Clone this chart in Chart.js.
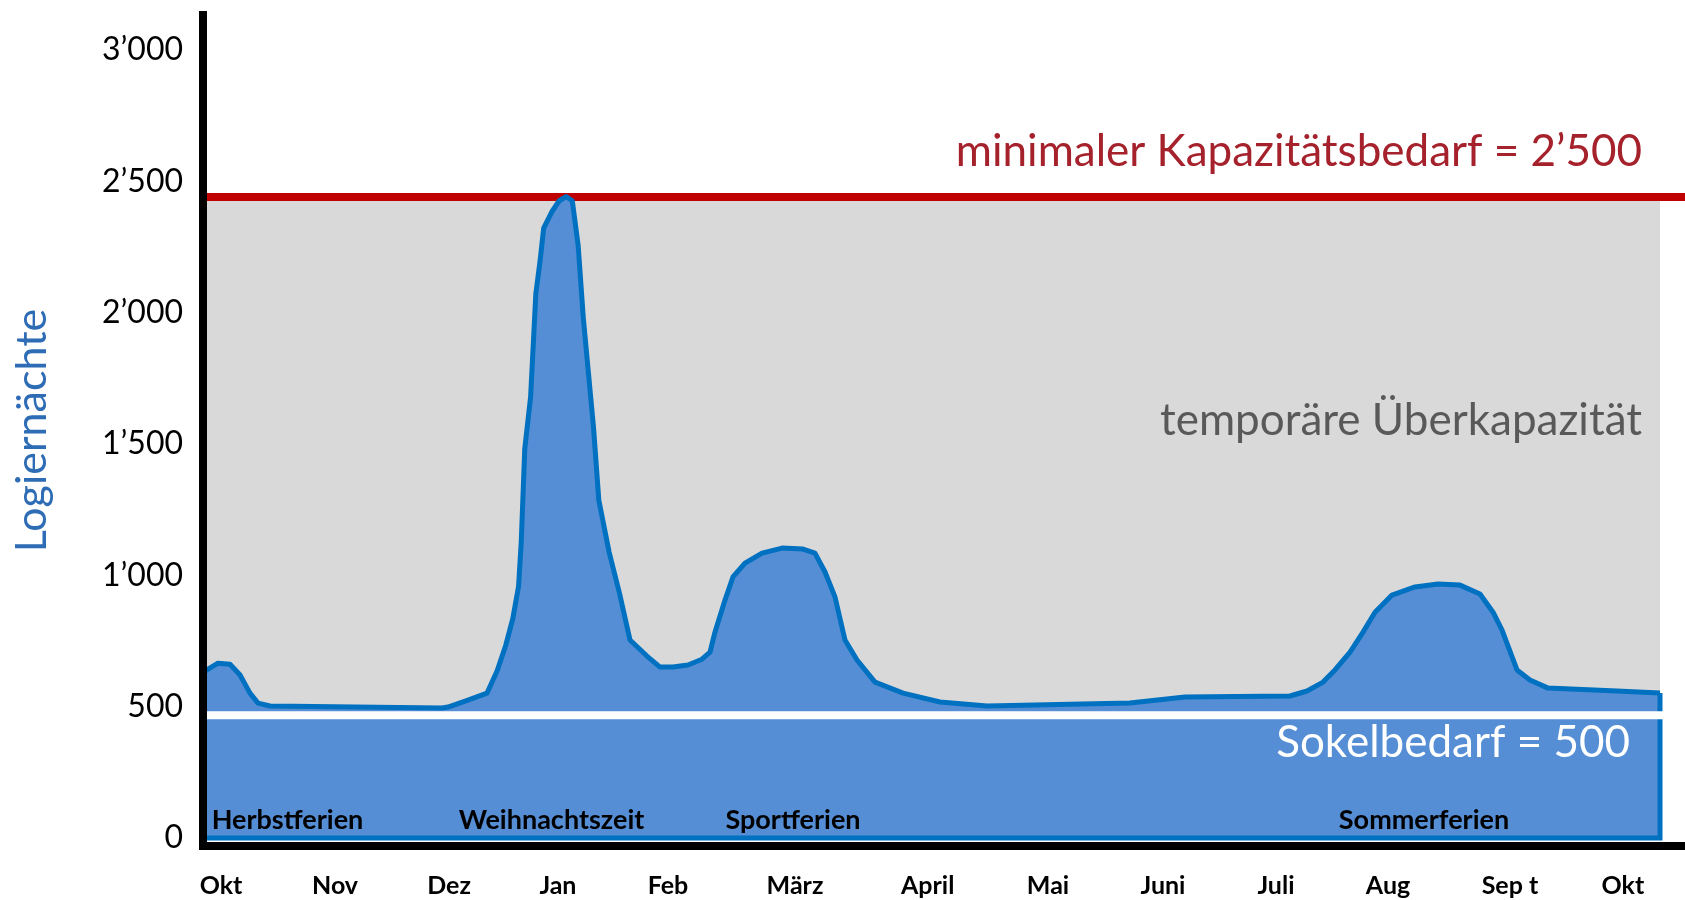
<!DOCTYPE html>
<html>
<head>
<meta charset="utf-8">
<script src="https://cdn.jsdelivr.net/npm/chart.js@4.4.1/dist/chart.umd.min.js"></script>
<style>
  html, body { margin: 0; padding: 0; background: #ffffff; }
  #wrap { width: 1685px; height: 900px; position: relative; }
</style>
</head>
<body>
<div id="wrap"><canvas id="c" width="1685" height="900"></canvas></div>
<script>
// ---------------- data ----------------
// x unit: months since the start of October (Okt = 0, next Okt = 12)
const monthLabels  = ['Okt', 'Nov', 'Dez', 'Jan', 'Feb', 'März', 'April', 'Mai', 'Juni', 'Juli', 'Aug', 'Sep t', 'Okt'];
const monthTickPos = [0, 0.976, 1.952, 2.884, 3.826, 4.913, 6.049, 7.079, 8.063, 9.030, 9.989, 11.033, 11.999];
const yTickValues  = [0, 500, 1000, 1500, 2000, 2500, 3000];

// Logiernächte over the year
const demandX = [-0.154, -0.114, -0.026, 0.077, 0.163, 0.248, 0.317, 0.419, 1.892, 1.943,
                 2.114, 2.277, 2.364, 2.438, 2.497, 2.547, 2.570, 2.600, 2.650, 2.695,
                 2.733, 2.762, 2.836, 2.895, 2.954, 3.007, 3.057, 3.101, 3.189, 3.234,
                 3.322, 3.411, 3.501, 3.646, 3.758, 3.869, 3.997, 4.117, 4.186, 4.228,
                 4.314, 4.382, 4.485, 4.631, 4.802, 4.982, 5.084, 5.170, 5.256, 5.341,
                 5.444, 5.598, 5.838, 6.154, 6.557, 7.780, 8.251, 9.150, 9.296, 9.433,
                 9.535, 9.664, 9.775, 9.878, 10.023, 10.220, 10.417, 10.605, 10.776, 10.888,
                 10.965, 11.093, 11.204, 11.359, 11.949, 12.317];
const demandY = [630, 642, 666, 662, 621, 552, 514, 503, 495, 499,
                 525, 552, 637, 735, 834, 958, 1128, 1482, 1679, 2073,
                 2204, 2322, 2387, 2426, 2442, 2426, 2256, 1981, 1561, 1286,
                 1089, 932, 754, 693, 651, 651, 659, 681, 708, 784,
                 906, 994, 1047, 1085, 1104, 1100, 1085, 1013, 917, 754,
                 678, 594, 552, 518, 503, 514, 537, 541, 560, 594,
                 640, 708, 784, 860, 925, 956, 967, 963, 929, 860,
                 792, 640, 602, 571, 560, 552];

// reference lines (as drawn)
const sockelValue   = 468;   // white line "Sokelbedarf = 500"
const capacityValue = 2440;  // red line "minimaler Kapazitätsbedarf = 2'500"

// holiday labels
const holidayLabels = ['Herbstferien', 'Weihnachtszeit', 'Sportferien', 'Sommerferien'];
const holidayX      = [0.569, 2.829, 4.896, 10.297];
const holidayY      = [69, 69, 69, 69];

// ---------------- layout / styling ----------------
const X_MIN = -0.154, X_MAX = 12.531;
const Y_MIN = -30, Y_MAX = 3133;
const FONT = 'Lato, "Open Sans", sans-serif';

const firstX = demandX[0];
const lastX  = demandX[demandX.length - 1];
const lastY  = demandY[demandY.length - 1];

const demandPts  = demandX.map((x, i) => ({ x, y: demandY[i] }));
const outlinePts = [{ x: lastX, y: lastY }, { x: lastX, y: 0 }, { x: firstX, y: 0 }];
const grayPts    = [{ x: firstX, y: capacityValue }, { x: lastX, y: capacityValue }];
const redPts     = [{ x: X_MIN, y: capacityValue }, { x: X_MAX, y: capacityValue }];
const whitePts   = [{ x: X_MIN, y: sockelValue }, { x: X_MAX, y: sockelValue }];

const annotations = [
  { text: 'minimaler Kapazitätsbedarf = 2’500', x: 12.163, y: 2612, align: 'right', color: '#A5212B', size: 44, weight: 'normal' },
  { text: 'temporäre Überkapazität',            x: 12.163, y: 1588, align: 'right', color: '#595959', size: 44, weight: 'normal' },
  { text: 'Sokelbedarf = 500',                  x: 12.060, y: 362,  align: 'right', color: '#FFFFFF', size: 44, weight: 'normal' }
].concat(holidayLabels.map((t, i) => ({
  text: t, x: holidayX[i], y: holidayY[i], align: 'center', color: '#000000', size: 27, weight: 'bold'
})));

const textPlugin = {
  id: 'textPlugin',
  afterDatasetsDraw(chart) {
    const { ctx } = chart;
    const xs = chart.scales.x, ys = chart.scales.y;
    ctx.save();
    ctx.textBaseline = 'middle';
    for (const a of annotations) {
      ctx.font = `${a.weight} ${a.size}px ${FONT}`;
      ctx.fillStyle = a.color;
      ctx.textAlign = a.align;
      ctx.fillText(a.text, xs.getPixelForValue(a.x), ys.getPixelForValue(a.y));
    }
    ctx.restore();
  }
};

const fmt = v => v < 1000 ? String(v) : Math.floor(v / 1000) + '’' + String(v % 1000).padStart(3, '0');

const lineBase = { pointRadius: 0, pointHoverRadius: 0, tension: 0, showLine: true };

new Chart(document.getElementById('c'), {
  type: 'line',
  data: {
    datasets: [
      Object.assign({}, lineBase, { label: 'temporäre Überkapazität', data: grayPts, borderWidth: 0,
        backgroundColor: '#D9D9D9', fill: { value: sockelValue }, order: 6 }),
      Object.assign({}, lineBase, { label: 'Kapazitätsbedarf', data: redPts, borderWidth: 8,
        borderColor: '#C00000', fill: false, order: 5 }),
      Object.assign({}, lineBase, { label: 'Logiernächte', data: demandPts, borderWidth: 5,
        borderColor: '#0070C0', backgroundColor: '#558ED5', fill: 'origin', order: 4,
        borderJoinStyle: 'round' }),
      Object.assign({}, lineBase, { label: 'Rand', data: outlinePts, borderWidth: 5,
        borderColor: '#0070C0', fill: false, order: 3 }),
      Object.assign({}, lineBase, { label: 'Sockelbedarf', data: whitePts, borderWidth: 8,
        borderColor: '#FFFFFF', fill: false, order: 2 })
    ]
  },
  options: {
    responsive: false,
    animation: false,
    devicePixelRatio: 1,
    layout: { padding: { top: 15, right: 0, bottom: 0, left: 0 } },
    plugins: { legend: { display: false }, tooltip: { enabled: false } },
    events: [],
    scales: {
      x: {
        type: 'linear',
        min: X_MIN, max: X_MAX,
        grid: { display: false, drawTicks: false },
        border: { display: true, color: '#000000', width: 8, z: 1 },
        afterBuildTicks: s => { s.ticks = monthTickPos.map(v => ({ value: v })); },
        afterFit: s => { s.height = 54; s.paddingLeft = 0; s.paddingRight = 0; },
        ticks: {
          autoSkip: false, maxRotation: 0, minRotation: 0, padding: 25,
          color: '#000000',
          font: { family: FONT, size: 25, weight: 'bold' },
          callback: (v, i) => monthLabels[i]
        }
      },
      y: {
        type: 'linear',
        min: Y_MIN, max: Y_MAX,
        grid: { display: false, drawTicks: false },
        border: { display: true, color: '#000000', width: 8, z: 1 },
        afterBuildTicks: s => { s.ticks = yTickValues.map(v => ({ value: v })); },
        afterFit: s => { s.width = 203; s.paddingTop = 0; s.paddingBottom = 0; },
        ticks: {
          padding: 20, color: '#000000',
          font: { family: FONT, size: 32 },
          callback: v => fmt(v)
        },
        title: {
          display: true, text: 'Logiernächte', color: '#2E6CB5',
          font: { family: FONT, size: 43 },
          padding: { top: 6, bottom: 0 }
        }
      }
    }
  },
  plugins: [textPlugin]
});
</script>
</body>
</html>
